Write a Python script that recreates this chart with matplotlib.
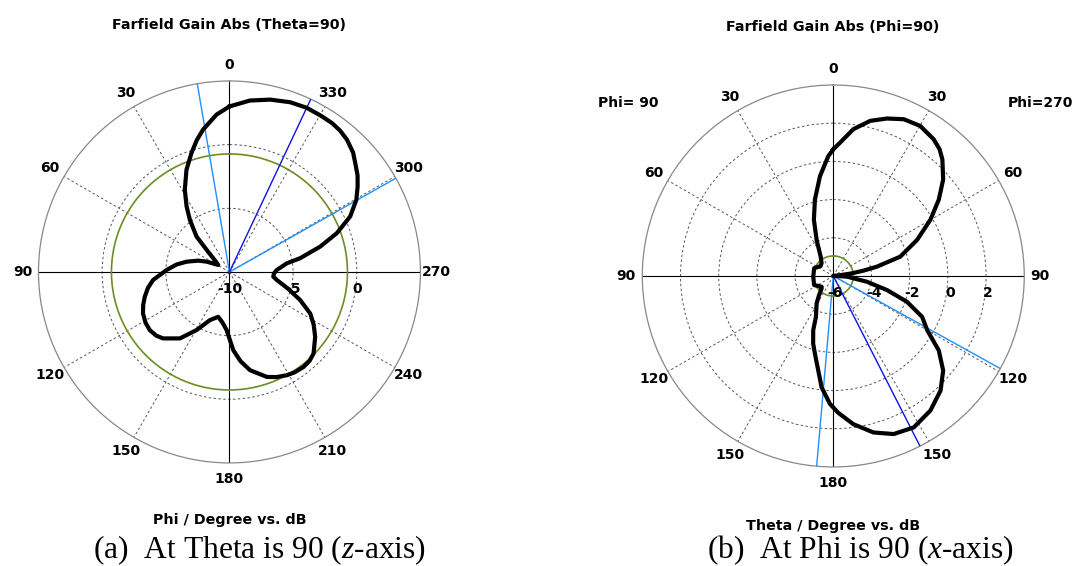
import numpy as np
import matplotlib.pyplot as plt
from matplotlib.transforms import offset_copy

plt.rcParams['mathtext.fontset'] = 'custom'
plt.rcParams['mathtext.rm'] = 'Liberation Serif'
plt.rcParams['mathtext.it'] = 'Liberation Serif:italic'

# ---- DATA ----
# (a) cut at Theta = 90: phi (deg, counter-clockwise from top) vs gain (dB)
phi_a = [0, 4.7, 10.5, 14, 17.7, 22.8, 28.5, 33.2, 37.2, 42.9, 46.2, 52, 58, 65.7,
         70, 76.5, 82, 88.2, 96, 101, 106.3, 111, 115.6, 121, 126.1, 131, 135, 143.3,
         150.5, 157.9, 165.9, 172, 177.2, 182.8, 187, 191.8, 199.6, 204, 209.1, 213,
         217.9, 222, 225.9, 232.9, 238, 242.8, 248.3, 254, 260.4, 263.9, 268, 272.4,
         278.6, 281, 285.6, 289.9, 294.7, 299.6, 303.7, 307, 310.9, 314, 318.4, 322,
         325.4, 329.8, 334.8, 340.3, 346.7, 353.2, 360]
gain_a = [3.0, 2.4, 1.37, 0.65, -0.19, -1.29, -2.65, -3.85, -4.86, -6.2, -7.6, -8.6, -8.96, -8.03,
          -7.4, -6.54, -5.8, -5.06, -3.97, -3.48, -3.07, -2.74, -2.47, -2.3, -2.25, -2.38, -2.62, -3.49,
          -4.76, -5.92, -6.37, -6.0, -5.43, -3.85, -2.95, -2.12, -1.25, -0.96, -0.72, -0.6,
          -0.54, -0.6, -0.8, -1.56, -2.2, -2.87, -4.02, -5.2, -6.23, -6.54, -6.5, -6.28,
          -5.44, -4.35, -2.6, -1.02, 0.44, 1.46, 2.1, 2.6, 3.07, 3.5, 3.9, 4.1,
          4.2, 4.22, 4.25, 4.16, 3.91, 3.56, 3.0]
level_a = -0.73                      # green reference circle
main_a = 334.8                       # main lobe direction
beam_a = [9.7, 299.4]                # 3 dB beam width edges
rings_a = [-5, 0]
rlabels_a = [-10, -5, 0]

# (b) cut at Phi = 90: theta (deg, clockwise from top) vs gain (dB)
theta_b = [0, 2.9, 7.8, 13.4, 18.8, 24.2, 30.1, 36.3, 40, 43.1, 48.7, 54.1, 59.9,
           66.7, 73.9, 77.9, 80, 82, 84, 88, 91, 93, 96.6, 99.7, 104.7, 109.3,
           114.7, 120, 125.2, 130.7, 136.9, 144.2, 152, 159.1, 165.6, 172.3, 178,
           181.5, 186, 193.3, 196.6, 200.3, 203, 211.3, 216, 223.3, 227.3,
           244.7, 268, 292.1, 308.4, 317.6, 326.9, 335.2, 341, 346.5, 352.4,
           357.6, 360]
gain_b = [0.63, 0.99, 1.76, 2.35, 2.71, 3.0, 3.08, 2.88, 2.66, 2.36, 1.66, 0.82, -0.12,
          -1.22, -2.35, -3.66, -4.4, -5.05, -5.75, -6.0, -5.75, -5.26, -4.94, -4.22, -3.09, -1.91,
          -0.88, -0.32, 0.76, 1.59, 2.22, 2.69, 2.98, 2.86, 2.46, 1.83, 1.16,
          0.7, -0.14, -1.82, -2.31, -2.97, -3.67, -4.32, -4.71, -5.11, -5.17,
          -4.89, -4.95, -4.92, -5.16, -5.09, -4.79, -3.92, -2.88, -1.88, -0.73,
          0.28, 0.63]
level_b = -4.95
main_b = 153
beam_b = [119, 185]
rings_b = [-4, -2, 0, 2]
rlabels_b = [-6, -4, -2, 0, 2]
theta_labels_b = ['0', '30', '60', '90', '120', '150', '180',
                  '150', '120', '90', '60', '30']

LIGHT = '#1e90ff'
DARK = '#1010e0'
GREEN = '#6b8e23'
GRID = '#555555'


def style_polar(ax, rmin, rmax, rings, direction, tick_labels):
    ax.set_theta_zero_location('N')
    ax.set_theta_direction(direction)
    ax.set_rlim(rmin, rmax)
    ax.set_rticks(rings)
    ax.set_yticklabels([])
    ax.set_thetagrids(range(0, 360, 30), tick_labels,
                      fontsize=10, fontweight='bold')
    ax.tick_params(axis='x', pad=1)
    ax.grid(True, color=GRID, linestyle=(0, (2.5, 2.5)), linewidth=0.7)
    ax.spines['polar'].set_color('#888888')
    ax.spines['polar'].set_linewidth(0.9)
    # solid main axes
    for ang in [0, 90, 180, 270]:
        ax.plot(np.radians([ang, ang]), [rmin, rmax], color='black', lw=0.8, zorder=2)


fig = plt.figure(figsize=(10.75, 5.66), dpi=100)
circ = np.radians(np.arange(0, 361, 1))

# ---- (a) ----
ax1 = fig.add_axes([0.0358, 0.182, 0.3553, 0.675], projection='polar')
style_polar(ax1, -10, 5, rings_a, 1, [str(a) for a in range(0, 360, 30)])
ax1.plot(circ, np.full_like(circ, level_a), color=GREEN, lw=1.2, zorder=3)
for ang in beam_a:
    ax1.plot(np.radians([ang, ang]), [-10, 5], color=LIGHT, lw=1.0, zorder=3)
ax1.plot(np.radians([main_a, main_a]), [-10, 5], color=DARK, lw=1.0, zorder=3)
ax1.plot(np.radians(phi_a), gain_a, color='black', lw=3, zorder=4,
         solid_joinstyle='round')
tr = offset_copy(ax1.transData, fig=fig, x=0, y=-12, units='points')
for v in rlabels_a:
    ax1.text(np.radians(270), v, str(v), transform=tr, ha='center', va='center',
             fontsize=10, fontweight='bold', zorder=5)

# ---- (b) ----
ax2 = fig.add_axes([0.5975, 0.1749, 0.3553, 0.675], projection='polar')
style_polar(ax2, -6, 4, rings_b, -1, theta_labels_b)
ax2.plot(circ, np.full_like(circ, level_b), color=GREEN, lw=1.2, zorder=3)
for ang in beam_b:
    ax2.plot(np.radians([ang, ang]), [-6, 4], color=LIGHT, lw=1.0, zorder=3)
ax2.plot(np.radians([main_b, main_b]), [-6, 4], color=DARK, lw=1.0, zorder=3)
ax2.plot(np.radians(theta_b), gain_b, color='black', lw=3, zorder=4,
         solid_joinstyle='round')
tr2 = offset_copy(ax2.transData, fig=fig, x=1.5, y=-12, units='points')
for v in rlabels_b:
    ax2.text(np.radians(90), v, str(v), transform=tr2, ha='center', va='center',
             fontsize=10, fontweight='bold', zorder=5)

# ---- TEXT ----
bold = dict(fontsize=10.3, fontweight='bold', ha='center', va='center')
fig.text(229.5 / 1075, 1 - 25 / 566, 'Farfield Gain Abs (Theta=90)', **bold)
fig.text(833 / 1075, 1 - 27 / 566, 'Farfield Gain Abs (Phi=90)', **bold)
fig.text(229.5 / 1075, 1 - 520 / 566, 'Phi / Degree vs. dB', **bold)
fig.text(833 / 1075, 1 - 526 / 566, 'Theta / Degree vs. dB', **bold)
fig.text(628 / 1075, 1 - 103 / 566, 'Phi= 90', **dict(bold, fontsize=10))
fig.text(1040 / 1075, 1 - 103 / 566, 'Phi=270', **dict(bold, fontsize=10))

cap = dict(fontsize=22.7, family='Liberation Serif', ha='center', va='baseline')
fig.text(260 / 1075, 1 - 558 / 566, r'(a)  At Theta is 90 ($z$-axis)', **cap)
fig.text(860 / 1075, 1 - 558 / 566, r'(b)  At Phi is 90 ($x$-axis)', **cap)

fig.savefig('out.png', dpi=100)
